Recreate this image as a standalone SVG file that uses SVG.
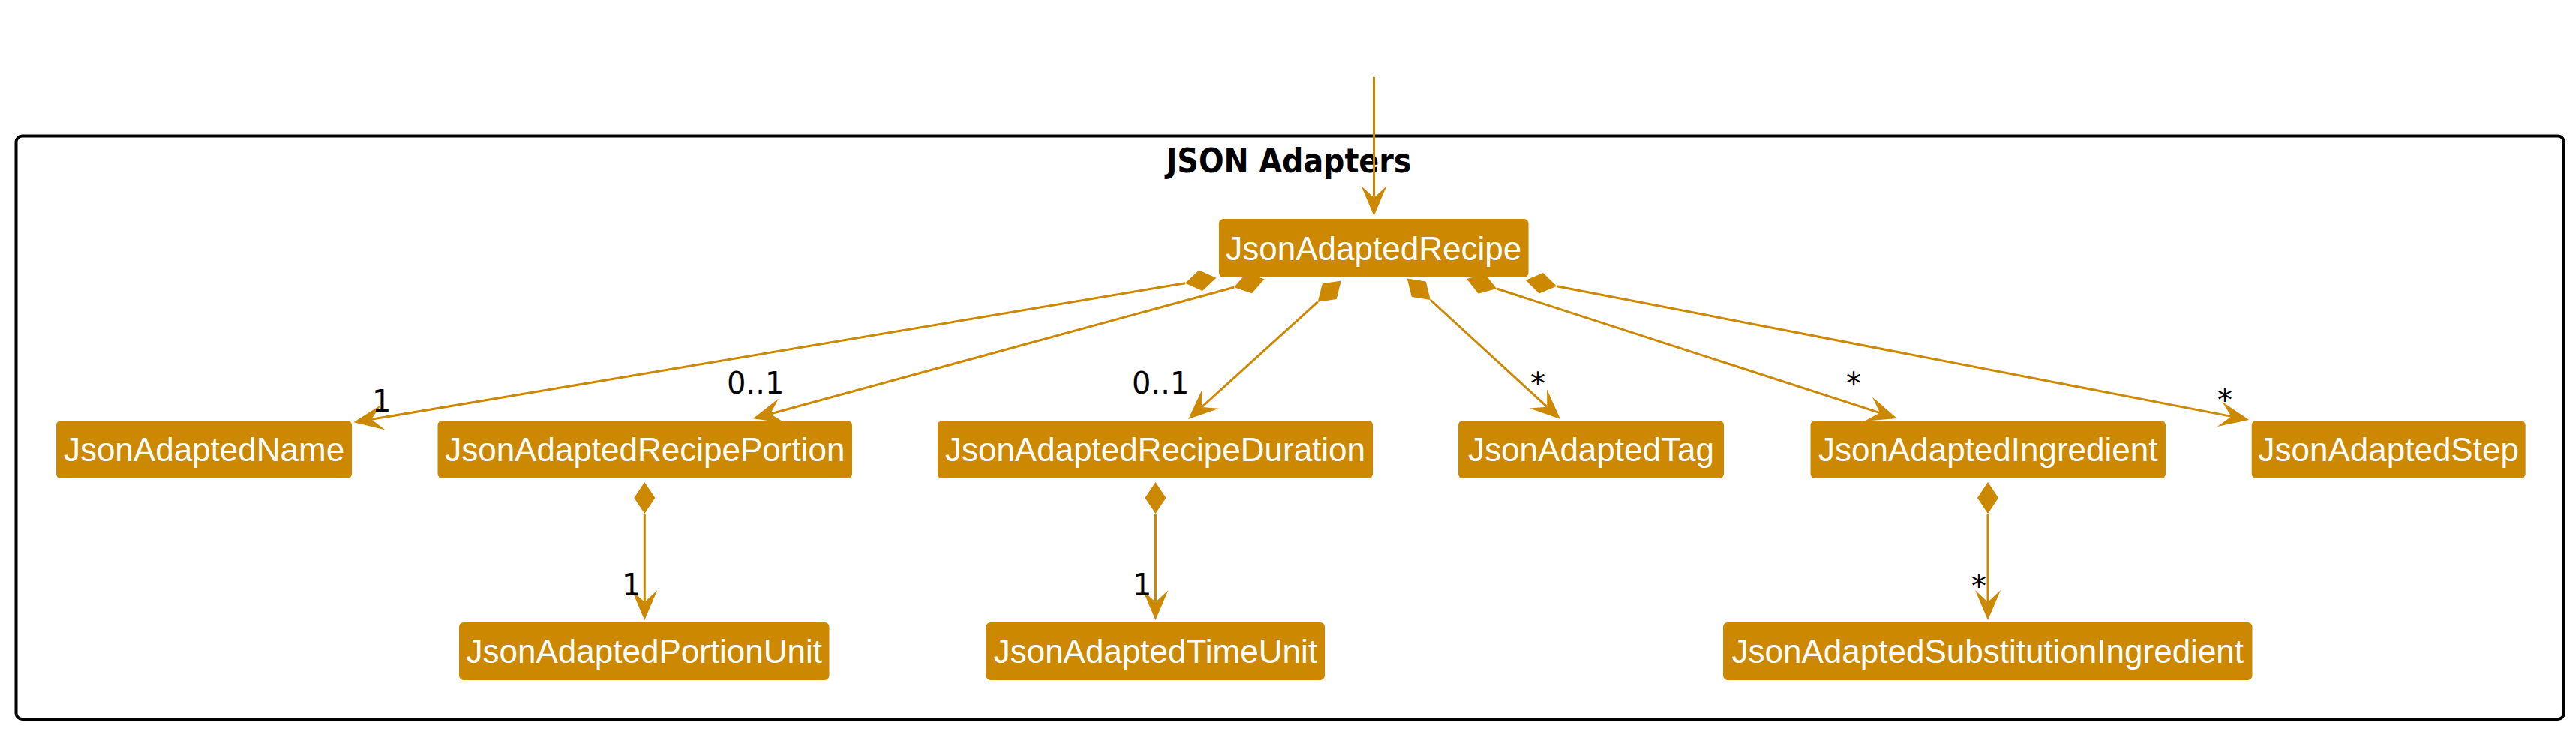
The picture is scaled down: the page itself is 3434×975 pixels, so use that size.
<svg xmlns="http://www.w3.org/2000/svg" width="3434" height="975" viewBox="0 0 3434 975">
<defs>
<style>
.node rect { fill:#CC8800; }
.node text { font-family:'Liberation Sans', Arial, sans-serif; font-size:44px; fill:#FFFFFF; text-anchor:middle; }
.conn { fill:none; stroke:#CC8800; stroke-width:3; }
.comp { marker-start:url(#diamond); marker-end:url(#arrow); }
.lbl { font-family:'DejaVu Sans', sans-serif; font-size:40px; fill:#000000; }
.title { font-family:'DejaVu Sans Condensed','DejaVu Sans', sans-serif; font-stretch:condensed; font-weight:bold; font-size:44px; fill:#000000; text-anchor:middle; }
</style>
<marker id="arrow" markerUnits="userSpaceOnUse" viewBox="-42 -19 44 38" markerWidth="44" markerHeight="38" refX="-24" refY="0" orient="auto">
<path d="M0,0 L-40,-17 L-24,0 L-40,17 Z" fill="#CC8800"/>
</marker>
<marker id="diamond" markerUnits="userSpaceOnUse" viewBox="-44 -16 46 32" markerWidth="46" markerHeight="32" refX="0" refY="0" orient="auto">
<path d="M0,0 L-21,-14 L-42,0 L-21,14 Z" fill="#CC8800"/>
</marker>
</defs>
<rect width="3434" height="975" fill="#FFFFFF"/>
<g id="package-json-adapters">
<rect x="21.5" y="181.5" width="3396.5" height="777.5" rx="8" fill="none" stroke="#000000" stroke-width="4"/>
<text class="title" x="1718" y="230">JSON Adapters</text>
</g>
<g id="connectors">
<path class="conn" d="M1831.5,103 L1831.5,264" marker-end="url(#arrow)"/>
<path class="conn comp" d="M1580,377.7 L495,559.3"/>
<path class="conn comp" d="M1645,383.3 L1027,552"/>
<path class="conn comp" d="M1756.7,402.7 L1602,543"/>
<path class="conn comp" d="M1906.7,400 L2062.3,542.7"/>
<path class="conn comp" d="M1995,385 L2506,550.6"/>
<path class="conn comp" d="M2075,381.7 L2974.7,555.4"/>
<path class="conn comp" d="M859.3,685 L859.3,803"/>
<path class="conn comp" d="M1540.5,685 L1540.5,803"/>
<path class="conn comp" d="M2650,685 L2650,803"/>
<text class="lbl" x="496" y="549">1</text>
<text class="lbl" x="969" y="525">0..1</text>
<text class="lbl" x="1509" y="525">0..1</text>
<text class="lbl" x="2040" y="526">*</text>
<text class="lbl" x="2461" y="526">*</text>
<text class="lbl" x="2956" y="548">*</text>
<text class="lbl" x="829" y="794">1</text>
<text class="lbl" x="1510" y="794">1</text>
<text class="lbl" x="2628" y="796">*</text>
</g>
<g id="JsonAdaptedRecipe" class="node"><rect x="1625" y="292" width="412.5" height="78" rx="6"/><text x="1831.2" y="346.5">JsonAdaptedRecipe</text></g>
<g id="JsonAdaptedName" class="node"><rect x="75" y="561" width="394" height="77" rx="6"/><text x="272" y="615">JsonAdaptedName</text></g>
<g id="JsonAdaptedRecipePortion" class="node"><rect x="583.5" y="561" width="552.5" height="77" rx="6"/><text x="859.8" y="615">JsonAdaptedRecipePortion</text></g>
<g id="JsonAdaptedRecipeDuration" class="node"><rect x="1250" y="561" width="580" height="77" rx="6"/><text x="1540" y="615">JsonAdaptedRecipeDuration</text></g>
<g id="JsonAdaptedTag" class="node"><rect x="1944" y="561" width="354" height="77" rx="6"/><text x="2121" y="615">JsonAdaptedTag</text></g>
<g id="JsonAdaptedIngredient" class="node"><rect x="2413.5" y="561" width="473.5" height="77" rx="6"/><text x="2650.2" y="615">JsonAdaptedIngredient</text></g>
<g id="JsonAdaptedStep" class="node"><rect x="3001.7" y="561" width="365" height="77" rx="6"/><text x="3184.2" y="615">JsonAdaptedStep</text></g>
<g id="JsonAdaptedPortionUnit" class="node"><rect x="612" y="830" width="493.5" height="77" rx="6"/><text x="858.8" y="884">JsonAdaptedPortionUnit</text></g>
<g id="JsonAdaptedTimeUnit" class="node"><rect x="1314.5" y="830" width="451.5" height="77" rx="6"/><text x="1540.3" y="884">JsonAdaptedTimeUnit</text></g>
<g id="JsonAdaptedSubstitutionIngredient" class="node"><rect x="2297" y="830" width="705.5" height="77" rx="6"/><text x="2649.8" y="884">JsonAdaptedSubstitutionIngredient</text></g>
</svg>
